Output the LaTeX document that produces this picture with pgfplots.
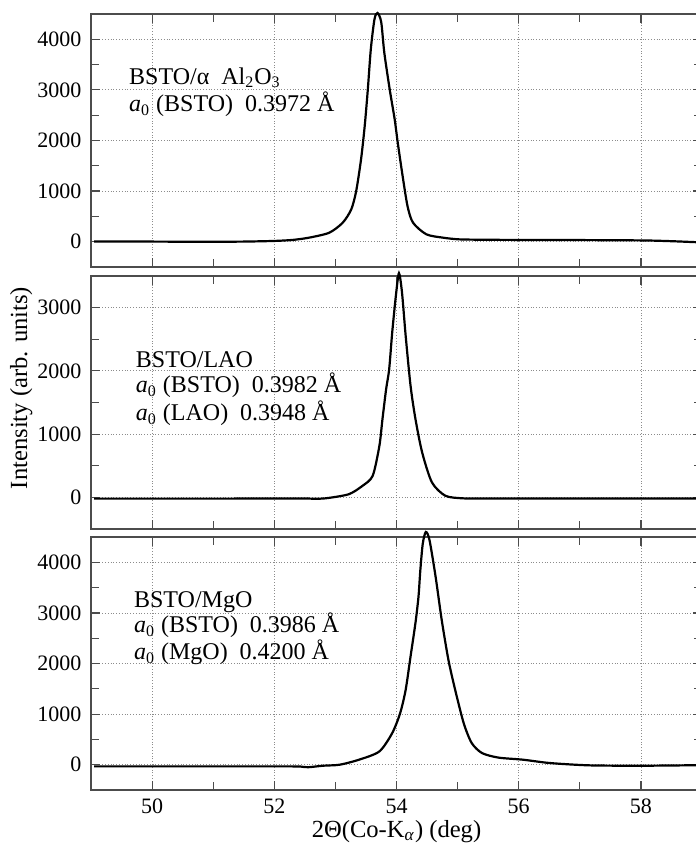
\documentclass[border=0pt]{standalone}
\usepackage{fontspec}
\setmainfont{Liberation Serif}
\usepackage{pgfplots}
\pgfplotsset{compat=1.18}
\newcommand\tlfont{\rmfamily\fontsize{11}{13}\selectfont}
\pgfplotsset{
  panel/.style={
    scale only axis, width=305.5pt, height=126.5pt,
    xmin=49, xmax=59, ymin=-500,
    xtick={50,52,...,58}, minor x tick num=1,
    minor y tick num=1,
    tick align=inside, major tick length=4.5pt, minor tick length=4pt,
    grid=major, major grid style={densely dotted, black!45, line width=0.4pt},
    axis line style={black!70, line width=0.8pt},
    every tick/.style={black!70, line width=0.6pt},
    yticklabel={\hbox{\tlfont\pgfmathprintnumber[assume math mode=true,1000 sep={}]{\tick}}},
    yticklabel style={xshift=-1.3pt},
    clip=false,
    anchor=north west,
  },
  curve/.style={black, line width=1.1pt, smooth, tension=0.45, mark=none},
}
\tikzset{ann/.style={anchor=base west, font=\rmfamily\fontsize{12}{14}\selectfont}}
\begin{document}
\begin{tikzpicture}
\path[use as bounding box] (0,0) rectangle (348pt,-423pt);

% Panel 1: BSTO / alpha-Al2O3
\begin{axis}[panel, at={(45.5pt,-7pt)}, ymax=4500, ytick={0,1000,2000,3000,4000}, xticklabels={}]
\addplot[curve] coordinates {
(49.05,5) (49.5,3) (50,2) (50.5,0) (51,0) (51.5,2) (52,15) (52.3,35) (52.57,80) (52.9,178)
(53.12,376) (53.26,640) (53.34,1000) (53.42,1630) (53.48,2290) (53.53,3000) (53.58,3810) (53.64,4400)
(53.69,4520) (53.75,4340) (53.80,3740) (53.89,3000) (53.97,2420) (54.02,1960) (54.10,1300) (54.18,705)
(54.27,376) (54.49,145) (54.76,80) (55.03,46) (55.5,38) (56,35) (57,32) (58.03,25) (58.5,10) (58.91,-10)
};
\node[ann] at (axis cs:49.51,3109) {BSTO/α\ \ Al\textsubscript{2}O\textsubscript{3}};
\node[ann] at (axis cs:49.51,2574) {\textit{a}\textsubscript{0} (BSTO)\ \ 0.3972 Å};
\end{axis}

% Panel 2: BSTO / LAO
\begin{axis}[panel, at={(45.5pt,-138pt)}, ymax=3500, ytick={0,1000,2000,3000}, xticklabels={}]
\addplot[curve] coordinates {
(49.05,-20) (50,-20) (51,-20) (52,-18) (52.5,-18) (52.7,-22) (52.88,-10) (53.22,50) (53.44,180)
(53.61,340) (53.72,815) (53.77,1235) (53.83,1710) (53.88,2025) (53.93,2610) (53.99,3190) (54.04,3545)
(54.09,3240) (54.15,2555) (54.23,1765) (54.31,1240) (54.42,710) (54.58,237) (54.80,25) (55.08,-15)
(55.3,-18) (56,-18) (57,-18) (58,-18) (58.91,-18)
};
\node[ann] at (axis cs:49.62,2054) {BSTO/LAO};
\node[ann] at (axis cs:49.62,1659) {\textit{a}\textsubscript{0} (BSTO)\ \ 0.3982 Å};
\node[ann] at (axis cs:49.62,1216) {\textit{a}\textsubscript{0} (LAO)\ \ 0.3948 Å};
\end{axis}

% Panel 3: BSTO / MgO
\begin{axis}[panel, at={(45.5pt,-268.5pt)}, ymax=4500, ytick={0,1000,2000,3000,4000},
  xticklabel={\hbox{\tlfont\pgfmathprintnumber[assume math mode=true]{\tick}}},
  xticklabel style={yshift=-1pt}]
\addplot[curve] coordinates {
(49.05,-33) (50,-33) (51,-33) (52,-33) (52.4,-35) (52.55,-50) (52.8,-20) (53.07,0) (53.39,100)
(53.72,263) (53.93,625) (54.06,1020) (54.15,1480) (54.23,2140) (54.31,2800) (54.36,3320) (54.39,3845)
(54.43,4370) (54.48,4600) (54.54,4440) (54.64,3715) (54.74,2860) (54.85,2070) (54.96,1480) (55.10,820)
(55.23,430) (55.40,230) (55.67,140) (56.07,99) (56.51,33) (57.16,-13) (58.03,-20) (58.91,-10)
};
\node[ann] at (axis cs:49.59,3116) {BSTO/MgO};
\node[ann] at (axis cs:49.59,2604) {\textit{a}\textsubscript{0} (BSTO)\ \ 0.3986 Å};
\node[ann] at (axis cs:49.59,2071) {\textit{a}\textsubscript{0} (MgO)\ \ 0.4200 Å};
\end{axis}

\node[rotate=90, anchor=base, font=\rmfamily\fontsize{12.3}{14}\selectfont] at (13.5pt,-194pt) {Intensity (arb. units)};
\node[anchor=base, font=\rmfamily\fontsize{12.3}{14}\selectfont] at (198.25pt,-418.5pt) {2Θ(Co-K\textsubscript{\textit{α}}) (deg)};
\end{tikzpicture}
\end{document}
